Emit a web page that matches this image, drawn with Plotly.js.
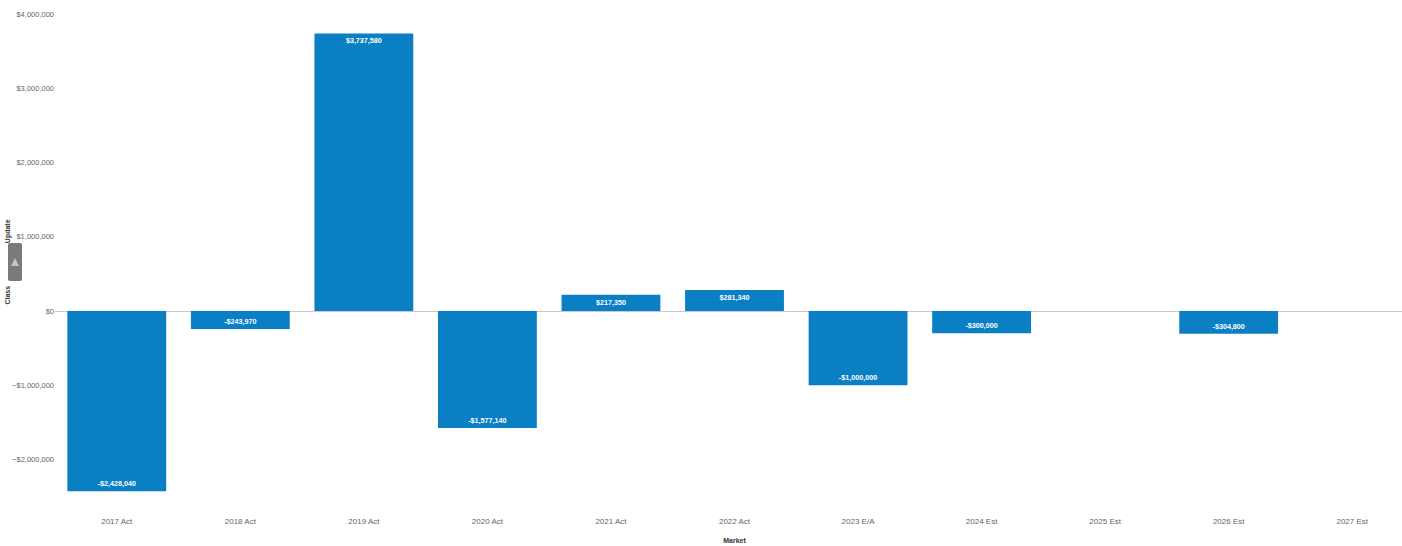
<!DOCTYPE html>
<html>
<head>
<meta charset="utf-8">
<script src="https://cdn.plot.ly/plotly-3.0.1.min.js"></script>
<style>html,body{margin:0;padding:0;background:#fff;overflow:hidden;width:1402px;height:546px}</style>
</head>
<body>
<div id="chart"></div>
<script>
const categories = ["2017 Act","2018 Act","2019 Act","2020 Act","2021 Act","2022 Act","2023 E/A","2024 Est","2025 Est","2026 Est","2027 Est"];
const values = [-2428040,-243970,3737580,-1577140,217350,281340,-1000000,-300000,null,-304800,null];
const yTicks = [-2000000,-1000000,0,1000000,2000000,3000000,4000000];
const barColor = "#0a7fc4";
const textColor = "#666666";
const titleColor = "#333333";
const gap = "\u00a0".repeat(22);

Plotly.newPlot("chart",[{
  type:"bar",
  x:categories,
  y:values,
  width:0.8,
  marker:{color:barColor,line:{width:0}},
  texttemplate:"<b>%{y:$,.0f}</b>",
  textposition:"inside",
  insidetextanchor:"end",
  textangle:0,
  constraintext:"none",
  insidetextfont:{family:"Liberation Sans, Arial, sans-serif",size:7.2,color:"#ffffff"},
  hoverinfo:"x+y"
}],{
  width:1414,height:546,
  margin:{l:55,r:0,t:14,b:36},
  paper_bgcolor:"#ffffff",plot_bgcolor:"#ffffff",
  font:{family:"Liberation Sans, Arial, sans-serif",size:8,color:textColor},
  showlegend:false,
  xaxis:{
    type:"category",
    range:[-0.5,10.5],
    showgrid:false,showline:false,zeroline:false,
    ticks:"outside",ticklen:3,tickcolor:"rgba(0,0,0,0)",
    tickfont:{size:8,color:textColor},
    automargin:false,
    title:{text:"<b>Market</b>",font:{size:7,color:titleColor},standoff:13}
  },
  yaxis:{
    range:[-2680000,4000000],
    tickvals:yTicks,
    tickformat:"$,.0f",
    showgrid:false,showline:false,
    zeroline:true,zerolinecolor:"#c8c8c8",zerolinewidth:1,
    ticks:"",
    tickfont:{size:7.5,color:textColor},
    automargin:false,
    title:{text:"<b>Class"+gap+"Update</b>",font:{size:7,color:titleColor},standoff:0}
  },
  shapes:[
    {type:"path",xref:"paper",yref:"paper",xsizemode:"pixel",ysizemode:"pixel",xanchor:0,yanchor:0.5,
     path:"M -47 -17 Q -47 -19 -45 -19 L -35 -19 Q -33 -19 -33 -17 L -33 17 Q -33 19 -35 19 L -45 19 Q -47 19 -47 17 Z",
     fillcolor:"#7a7a7a",line:{width:0},layer:"above"},
    {type:"path",xref:"paper",yref:"paper",xsizemode:"pixel",ysizemode:"pixel",xanchor:0,yanchor:0.5,
     path:"M -44 -4 L -40 4 L -36 -4 Z",
     fillcolor:"#c4c4c4",line:{width:0},layer:"above"}
  ]
},{displayModeBar:false});
</script>
</body>
</html>
